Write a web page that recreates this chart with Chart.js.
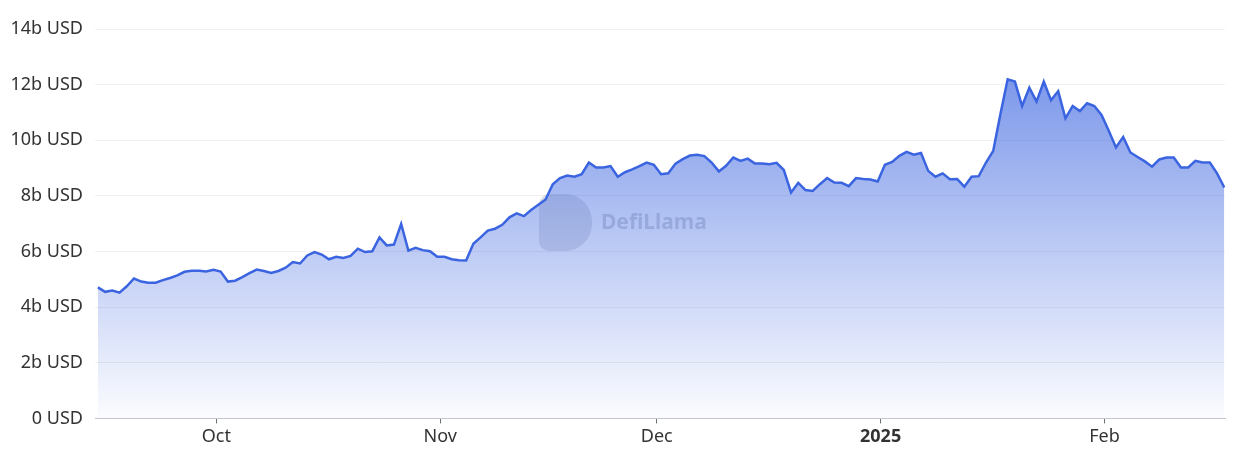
<!DOCTYPE html>
<html>
<head>
<meta charset="utf-8">
<script src="https://cdn.jsdelivr.net/npm/chart.js@4.4.1/dist/chart.umd.min.js"></script>
<style>
  html, body { margin: 0; padding: 0; background: #fff; }
  #wrap { width: 1238px; height: 458px; position: relative; }
</style>
</head>
<body>
<div id="wrap"><canvas id="chart"></canvas></div>
<script>
// daily values in billions USD, 14 Sep 2024 -> 17 Feb 2025
const tvl = [
  4.71, 4.55, 4.60, 4.52, 4.75, 5.03, 4.92, 4.88, 4.88, 4.97,
  5.05, 5.14, 5.27, 5.31, 5.31, 5.28, 5.34, 5.28, 4.92, 4.95,
  5.08, 5.22, 5.35, 5.30, 5.23, 5.30, 5.42, 5.62, 5.57, 5.86,
  5.98, 5.89, 5.72, 5.81, 5.77, 5.84, 6.10, 5.98, 6.01, 6.51,
  6.22, 6.25, 6.99, 6.03, 6.13, 6.05, 6.01, 5.81, 5.81, 5.72,
  5.69, 5.68, 6.28, 6.51, 6.75, 6.82, 6.96, 7.23, 7.37, 7.27,
  7.49, 7.68, 7.87, 8.42, 8.64, 8.73, 8.69, 8.78, 9.20, 9.02,
  9.02, 9.07, 8.69, 8.85, 8.95, 9.07, 9.20, 9.12, 8.78, 8.81,
  9.16, 9.32, 9.45, 9.48, 9.43, 9.20, 8.88, 9.08, 9.38, 9.26,
  9.34, 9.16, 9.16, 9.14, 9.19, 8.93, 8.12, 8.47, 8.21, 8.18,
  8.42, 8.64, 8.48, 8.47, 8.35, 8.64, 8.61, 8.59, 8.52, 9.12,
  9.22, 9.44, 9.58, 9.48, 9.54, 8.90, 8.69, 8.81, 8.60, 8.61,
  8.33, 8.69, 8.71, 9.20, 9.62, 10.94, 12.19, 12.11, 11.23, 11.89,
  11.39, 12.11, 11.44, 11.76, 10.79, 11.23, 11.05, 11.33, 11.23, 10.91,
  10.34, 9.74, 10.12, 9.56, 9.40, 9.24, 9.05, 9.31, 9.38, 9.38,
  9.02, 9.02, 9.26, 9.20, 9.20, 8.81, 8.30
];

// points are stamped mid-day, months start a bit before the point index
const monthTicks = [16.4, 47.4, 77.4, 108.4, 139.4];
const monthLabels = ['Oct', 'Nov', 'Dec', '2025', 'Feb'];
const yearLabel = '2025';

const yTicks = [0, 2, 4, 6, 8, 10, 12, 14];

const FONT = '"Noto Sans", "Open Sans", sans-serif';

const watermark = {
  id: 'watermark',
  beforeDatasetsDraw(chart) {
    const ctx = chart.ctx;
    ctx.save();
    ctx.globalAlpha = 0.2;
    ctx.fillStyle = '#6b6f80';
    // logo badge
    const x = 539, y = 194, w = 53, h = 57, r = 10;
    ctx.beginPath();
    ctx.moveTo(x + r, y);
    ctx.arcTo(x + w, y, x + w, y + h, 27);
    ctx.arcTo(x + w, y + h, x, y + h, 27);
    ctx.arcTo(x, y + h, x, y, r);
    ctx.arcTo(x, y, x + w, y, r);
    ctx.closePath();
    ctx.fill();
    ctx.globalAlpha = 0.3;
    ctx.font = 'bold 21px ' + FONT;
    ctx.textBaseline = 'middle';
    ctx.fillText('DefiLlama', 601, 223);
    ctx.restore();
  }
};

new Chart(document.getElementById('chart'), {
  type: 'line',
  data: {
    datasets: [{
      data: tvl.map((v, i) => ({ x: i, y: v })),
      borderColor: 'rgb(59, 100, 224)',
      borderWidth: 2.5,
      pointRadius: 0,
      tension: 0,
      fill: 'origin',
      backgroundColor: (c) => {
        const area = c.chart.chartArea;
        if (!area) return 'rgba(59,100,224,0.3)';
        const top = c.chart.scales.y.getPixelForValue(Math.max(...tvl));
        const g = c.chart.ctx.createLinearGradient(0, top, 0, area.bottom);
        g.addColorStop(0, 'rgba(59, 100, 224, 0.66)');
        g.addColorStop(1, 'rgba(59, 100, 224, 0.02)');
        return g;
      }
    }]
  },
  options: {
    responsive: true,
    maintainAspectRatio: false,
    animation: false,
    layout: { padding: { top: 29, right: 13, bottom: 7, left: 0 } },
    plugins: { legend: { display: false }, tooltip: { enabled: false } },
    scales: {
      x: {
        type: 'linear',
        min: -0.4,
        max: tvl.length - 0.9,
        afterBuildTicks: (s) => { s.ticks = monthTicks.map(v => ({ value: v })); },
        grid: { drawOnChartArea: false, drawTicks: true, tickLength: 5, color: '#6e7079' },
        border: { display: true, color: '#c4c6cc', width: 1 },
        ticks: {
          autoSkip: false,
          maxRotation: 0,
          padding: 3,
          color: '#333',
          callback: (v) => monthLabels[monthTicks.indexOf(v)],
          font: (c) => ({
            family: FONT,
            size: 18,
            weight: c.tick && c.tick.label === yearLabel ? 'bold' : 'normal'
          })
        }
      },
      y: {
        min: 0,
        max: 14,
        afterBuildTicks: (s) => { s.ticks = yTicks.map(v => ({ value: v })); },
        afterFit: (s) => { s.width = 95; },
        grid: { color: '#f0f0f2', drawTicks: false },
        border: { display: false },
        ticks: {
          padding: 12,
          color: '#333',
          font: { family: FONT, size: 18 },
          callback: (v) => v === 0 ? '0 USD' : v + 'b USD'
        }
      }
    }
  },
  plugins: [watermark]
});
</script>
</body>
</html>
